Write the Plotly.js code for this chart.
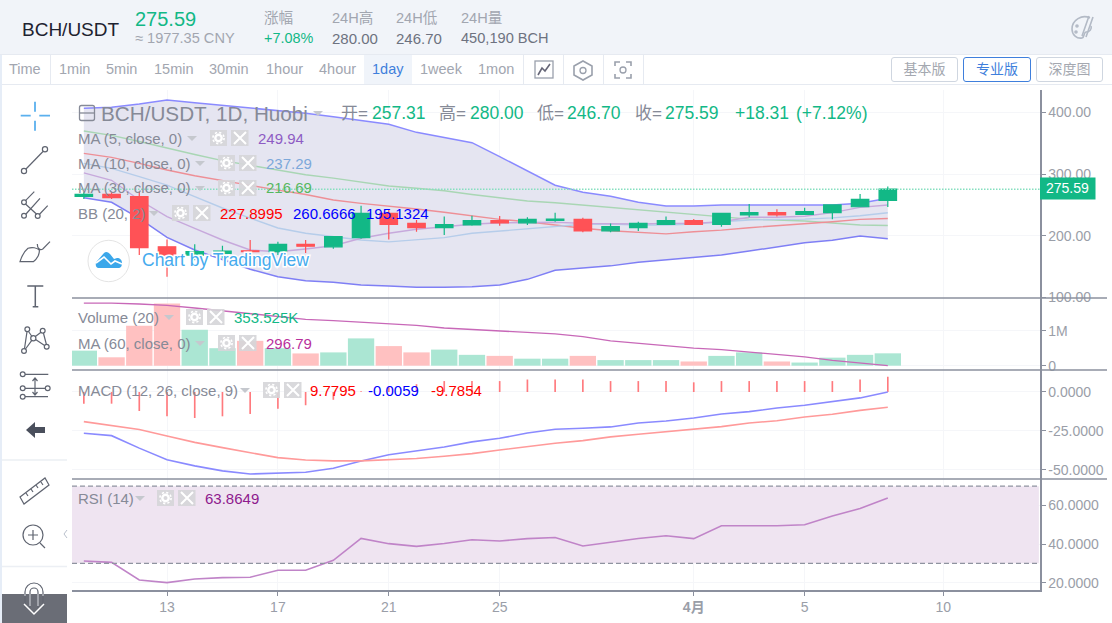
<!DOCTYPE html>
<html><head><meta charset="utf-8">
<script src="https://cdn.plot.ly/plotly-3.0.1.min.js"></script>
<style>
html,body{margin:0;padding:0;background:#fff;overflow:hidden;font-family:"Liberation Sans","Noto Sans CJK SC",sans-serif}
#wrap{position:relative;width:1112px;height:623px;overflow:hidden}
#chart{position:absolute;left:0;top:0;width:1112px;height:623px}
.h{position:absolute;white-space:nowrap;line-height:1}
#top{position:absolute;left:0;top:0;width:1112px;height:54px;background:#f1f4f9;border-bottom:1px solid #e6eaf1}
#tb{position:absolute;left:0;top:55px;width:1112px;height:29px;border-bottom:1px solid #e6eaf1;background:#fff}
.sep{position:absolute;top:55px;width:1px;height:29px;background:#e6eaf1}
.btn{position:absolute;top:57px;height:23px;border:1px solid #cfd6e0;border-radius:3px;font-size:14px;color:#a4a8b0;text-align:center;line-height:23px;box-sizing:content-box}
#ov{position:absolute;left:0;top:0;pointer-events:none}
#sideL{position:absolute;left:0;top:55px;width:2px;height:568px;background:#e6edf7}
</style></head><body><div id="wrap">
<div id="chart"></div>
<div id="top"></div><div id="tb"></div><div id="sideL"></div>
<div id="hdr"></div>
<svg id="ov" width="1112" height="623" viewBox="0 0 1112 623"></svg>
</div>
<script>
// ---------- data ----------
const days   = [10,11,12,13,14,15,16,17,18,19,20,21,22,23,24,25,26,27,28,29,30,31,32,33,34,35,36,37,38,39];
const opens  = [264,267,263.4,182,168.6,171.4,175.5,174,186,182,196.8,236.4,220,213,217.4,224.4,221,225,226.6,208,213,218.5,224.4,218.5,234,237.4,234.8,237.4,247,257.31];
const highs  = [270.5,271.5,271.5,194,186,183.7,193,190,193,199.5,248.7,242,225.5,231,232.5,232,230,237.4,229,220,222.7,231,227,237.4,251.5,243,245.5,250.4,267.7,280];
const lows   = [259.6,259.6,168.6,133.4,160,163,155,168.6,172,179,195,194,206.5,201,216,216,217.4,222.7,205.5,205.5,207.6,218,218,214.6,230,231,233.6,226.6,247,246.7];
const closes = [267,261.7,180.5,168.6,174,175,174,186,183,198.4,236.4,218.5,213,218,224.4,221,226.6,227,208,214.6,220,224.4,218.5,236.4,237.4,234,239,250,259,275.59];
const bbUpper = [406.9,408.5,413.9,420.4,416.1,411.8,407.4,403.1,398.8,393.3,386.8,380.9,367.9,359.8,351.1,328.4,305.6,282,270.5,264,254.2,248.3,248.3,249.9,249.9,249.9,249.9,249.9,252.6,260.67];
const bbLower = [261.7,254.2,228,197.4,176.8,161,145.4,133.4,126.9,124.3,120,118.2,116.1,116.1,117.1,119.8,129.1,144,148,151,156.7,160.5,164.8,168.6,175,182,188.7,192.5,199.5,195.13];
const bbBasis = [333.8,327.3,317.5,306.7,297.5,289.4,281,274,267,258,252.6,248.3,243.4,238,232.5,226.6,222.7,217.4,212,208,205,203,206.5,209,213,216,219.5,222.7,226.6,227.9];
const ma5  = [302,290,258,231,212,193,176.8,174,178.4,183.7,195.8,203.9,210.4,214.6,218.5,221,221.8,221.8,220,219,219,220,220,222.7,230,230,231.5,237.4,246,249.94];
const ma10 = [317.5,309.4,295.9,282.3,263.4,245,228.6,212.5,203.9,198.4,193,190,193,196.8,203.9,207.6,212,215.8,218.5,219,217.3,217.3,219,222.7,225.5,226.6,227,229,232.5,237.29];
const ma30 = [370,363,353,342,332,322,314,306,299,293.6,286.7,280.7,277,273,267,261.7,256.4,253.6,249.9,246,242.2,238,235,230.9,227,225.5,223.9,220.6,217.4,216.69];
const volumeM = [0.43,0.24,1.14,1.78,1.03,0.50,0.71,0.50,0.35,0.38,0.78,0.56,0.38,0.46,0.31,0.28,0.20,0.20,0.28,0.16,0.16,0.16,0.12,0.28,0.38,0.12,0.09,0.23,0.31,0.3535];
const volLine = [1.79,1.79,1.763,1.725,1.649,1.571,1.486,1.4,1.326,1.286,1.249,1.191,1.154,1.077,1.029,0.983,0.95,0.91,0.83,0.71,0.64,0.57,0.50,0.46,0.39,0.32,0.25,0.15,0.07,0.0];
const macd   = [-26.5,-28,-36,-43.4,-47.4,-50.6,-52.6,-51.9,-51.5,-48.9,-44.2,-40.2,-37.8,-35.3,-32,-29.7,-26.3,-23.9,-23.3,-22.4,-19.9,-18.6,-16.7,-14.1,-12.6,-10.3,-8.5,-6.2,-3.8,-0.0059];
const signal = [-19,-21.6,-24.1,-28.2,-32.3,-35.7,-38.9,-42.1,-43.6,-44.2,-44.2,-43.6,-42.7,-41.2,-39.5,-37.2,-35,-32.9,-31.2,-28.8,-27.1,-25.6,-23.9,-22.2,-19.9,-18.4,-16,-14.3,-11.8,-9.78];
const hist   = [-7.5,-7.5,-12.2,-15.6,-16.7,-15.6,-14.1,-10.7,-8.5,-5,0.5,3,5,7,7,7,8,8,8,7,7,7,6.2,7,7,7,7,7,8,9.78];
const rsi    = [31.2,30.5,21.4,20,21.9,22.6,22.8,26.4,26.4,31.6,42.9,40.2,38.8,40.3,42.2,41.6,42.8,43.4,39,40.9,42.9,44.3,42.8,49.5,49.5,49.5,50,54.5,58.4,63.86];
const xTickVals = [13,17,21,25,32,36,41];
const xTickText = ['13','17','21','25','<b>4月</b>','5','10'];
const priceTicks = [100,200,300,400];
const priceTickText = ['100.00','200.00','300.00','400.00'];
const volTicks = [0,1]; const volTickText = ['0','1M'];
const macdTicks = [-50,-25,0]; const macdTickText = ['-50.0000','-25.0000','0.0000'];
const rsiTicks = [20,40,60]; const rsiTickText = ['20.0000','40.0000','60.0000'];
const lastClose = 275.59;

// ---------- helpers ----------
const UP='#12b886', DOWN='#ff5256', AXIS='#8b909e', GRID='#f5f6f9', TICK='#9a9ea8', LEG='#868a97';
const L=72,R=1040,T=90,B=590,W=R-L,H=B-T;
const px=v=>(v-L)/W, py=v=>(B-v)/H;
const dom=(a,b)=>[py(b),py(a)];
const FONT='"Liberation Sans","Noto Sans CJK SC",sans-serif';
const XR=[9.573,44.49];
const yAx=(a,b,range,vals,text)=>({domain:dom(a,b),range,side:'right',anchor:'x',tickmode:'array',tickvals:vals,ticktext:text,
  showline:true,linecolor:AXIS,linewidth:1.5,ticks:'outside',ticklen:4,tickcolor:AXIS,gridcolor:GRID,zeroline:false,
  tickfont:{family:FONT,size:14,color:TICK},fixedrange:true});
const ln=(x,y,color,yaxis,w,extra)=>Object.assign({type:'scatter',mode:'lines',x,y,yaxis,line:{color,width:w||1.4},hoverinfo:'skip',showlegend:false},extra||{});

const traces=[
 ln(days,bbUpper,'#8a8aff','y',1.5),
 ln(days,bbLower,'#7f7ff5','y',1.5,{fill:'tonexty',fillcolor:'#e5e5f1'}),
 ln(days,ma30,'#a9d6b4','y'),
 ln(days,bbBasis,'#ee8f96','y'),
 ln(days,ma10,'#b6cdea','y'),
 ln(days,ma5,'#c7a9dc','y'),
 {type:'candlestick',x:days,open:opens,high:highs,low:lows,close:closes,yaxis:'y5',whiskerwidth:0,
  increasing:{line:{color:UP,width:1.2},fillcolor:UP},decreasing:{line:{color:DOWN,width:1.2},fillcolor:DOWN},hoverinfo:'skip',showlegend:false},
 {type:'bar',x:days,y:volumeM,yaxis:'y2',width:0.95,marker:{color:closes.map((c,i)=>c>=opens[i]?'#abe6d3':'#ffc1c1')},hoverinfo:'skip',showlegend:false},
 ln(days,volLine,'#c868b8','y2',1.3),
 {type:'bar',x:days,y:hist,yaxis:'y3',width:0.06,marker:{color:'#ff7a7e'},hoverinfo:'skip',showlegend:false},
 ln(days,macd,'#8a8aff','y3',1.6),
 ln(days,signal,'#ff9a9a','y3',1.6),
 ln(days,rsi,'#c084c8','y4',1.6),
];

const rows=[
 ['BCH/USDT, 1D, Huobi',102,113,LEG,20.7],
 ['开=',342,113,LEG,17],['257.31',373,113,UP,17.5],
 ['高=',440,113,LEG,17],['280.00',471,113,UP,17.5],
 ['低=',538,113,LEG,17],['246.70',568,113,UP,17.5],
 ['收=',636,113,LEG,17],['275.59',666,113,UP,17.5],
 ['+18.31',736,113,UP,17.5],['(+7.12%)',797,113,UP,17.5],
 ['MA (5, close, 0)',79,138,LEG,15],['249.94',259,138,'#8e5cc4',15],
 ['MA (10, close, 0)',79,163,LEG,15],['237.29',267,163,'#7da8da',15],
 ['MA (30, close, 0)',79,188,LEG,15],['216.69',267,188,'#55b860',15],
 ['BB (20, 2)',79,213,LEG,15],['227.8995',221,213,'#ff0000',15],['260.6666',294,213,'#0000ff',15],['195.1324',367,213,'#0000ff',15],
 ['Volume (20)',79,317,LEG,15],['353.525K',235,317,'#12b886',15],
 ['MA (60, close, 0)',79,343,LEG,15],['296.79',267,343,'#b8309c',15],
 ['MACD (12, 26, close, 9)',79,390,LEG,15],['9.7795',311,390,'#ff0000',15],['-0.0059',369,390,'#0000ff',15],['-9.7854',432,390,'#ff0000',15],
 ['RSI (14)',79,498,LEG,15],['63.8649',206,498,'#8e1a8e',15],
];
const annotations=rows.map(r=>({xref:'paper',yref:'paper',x:px(r[1]-2),y:py(r[2]),xanchor:'left',yanchor:'middle',text:r[0],showarrow:false,borderpad:0,font:{family:FONT,size:r[4],color:r[3]}}));
annotations.push({xref:'paper',yref:'paper',x:px(1067.5),y:py(188.5),xanchor:'center',yanchor:'middle',text:String(lastClose),showarrow:false,font:{family:FONT,size:14,color:'#fff'}});

const lineShape=(x0,y0,x1,y1,color,w,dash)=>({type:'line',xref:'paper',yref:'paper',x0:px(x0),x1:px(x1),y0:py(y0),y1:py(y1),line:{color,width:w,dash:dash||'solid'},layer:'above'});
const shapes=[
 {type:'rect',xref:'x',yref:'y4',x0:XR[0],x1:44.45,y0:30,y1:70,fillcolor:'#efe4f1',line:{width:0},layer:'between'},
 {type:'line',xref:'paper',yref:'y4',x0:0,x1:px(1039),y0:70,y1:70,line:{color:'#8f93a0',width:1.2,dash:'5px,3px'},layer:'above'},
 {type:'line',xref:'paper',yref:'y4',x0:0,x1:px(1039),y0:30,y1:30,line:{color:'#8f93a0',width:1.2,dash:'5px,3px'},layer:'above'},
 {type:'line',xref:'paper',yref:'y',x0:0,x1:1,y0:lastClose,y1:lastClose,line:{color:'#86dfc0',width:1.5,dash:'1.5px,1.5px'},layer:'above'},
 lineShape(72,298,1107,298,AXIS,1.4),
 lineShape(72,370,1107,370,AXIS,1.4),
 lineShape(72,479,1107,479,AXIS,1.4),
 {type:'rect',xref:'paper',yref:'paper',x0:px(1040),x1:px(1095.5),y0:py(199.5),y1:py(177.5),fillcolor:UP,line:{width:0},layer:'above'},
];

const layout={width:1112,height:623,margin:{l:L,r:1112-R,t:T,b:623-B,pad:0},paper_bgcolor:'#fff',plot_bgcolor:'rgba(0,0,0,0)',
 showlegend:false,barmode:'overlay',dragmode:false,boxgap:0.1,boxgroupgap:0.3,
 font:{family:FONT},
 xaxis:{domain:[0,1],range:XR,anchor:'y4',tickmode:'array',tickvals:xTickVals,ticktext:xTickText,showline:true,linecolor:AXIS,linewidth:1.5,
   ticks:'outside',ticklen:4,tickcolor:AXIS,gridcolor:GRID,showgrid:true,zeroline:false,tickfont:{family:FONT,size:14,color:TICK},rangeslider:{visible:false},fixedrange:true},
 yaxis:yAx(90,298,[98.8,436.7],priceTicks,priceTickText),
 yaxis2:yAx(298,370,[-0.123,1.934],volTicks,volTickText),
 yaxis3:yAx(370,479,[-55.8,14.1],macdTicks,macdTickText),
 yaxis4:yAx(479,590,[16.2,73.7],rsiTicks,rsiTickText),
 yaxis5:{overlaying:'y',range:[98.8,436.7],visible:false,anchor:'x',side:'right',fixedrange:true},
 annotations,shapes};
Plotly.newPlot('chart',traces,layout,{staticPlot:true,displayModeBar:false});

// ---------- page chrome ----------
const hdr=document.getElementById('hdr');
const put=(t,x,y,size,color,extra)=>{const d=document.createElement('div');d.className='h';d.textContent=t;
 d.style.cssText=`left:${x}px;top:${y-size/2}px;font-size:${size}px;color:${color};`+(extra||'');hdr.appendChild(d);return d;};
const hdrGrey='#a2a6b0',hdrVal='#6d7280';
put('BCH/USDT',22,29,19,'#1d2230');
put('275.59',135,19,20,UP);
put('≈ 1977.35 CNY',135,38,14.6,hdrGrey);
put('涨幅',264,18,14.6,hdrGrey);put('+7.08%',264,38,14.4,UP);
put('24H高',332,18,14.6,hdrGrey);put('280.00',332,38,15,hdrVal);
put('24H低',396,18,14.6,hdrGrey);put('246.70',396,38,15,hdrVal);
put('24H量',461,18,14.6,hdrGrey);put('450,190 BCH',461,38,14.6,hdrVal);
const active=document.createElement('div');active.style.cssText='position:absolute;left:364px;top:55px;width:48px;height:29px;background:#f0f4fa';hdr.appendChild(active);
[['Time',9],['1min',59],['5min',106],['15min',154],['30min',209],['1hour',266],['4hour',319],['1day',372],['1week',420],['1mon',478]].forEach(a=>put(a[0],a[1],69.5,14.5,a[0]==='1day'?'#3f7fdc':hdrGrey));
[50,523,563,603,643].forEach(x=>{const s=document.createElement('div');s.className='sep';s.style.left=x+'px';hdr.appendChild(s);});
[['基本版',891,65,'#cfd6e0','#a4a8b0'],['专业版',963,66,'#3f7fdc','#3f7fdc'],['深度图',1036,65,'#cfd6e0','#a4a8b0']].forEach(b=>{
 const d=document.createElement('div');d.className='btn';d.textContent=b[0];d.style.left=b[1]+'px';d.style.width=b[2]+'px';d.style.borderColor=b[3];d.style.color=b[4];hdr.appendChild(d);});

// icons, indicator buttons, watermark
const ic='#5f6470';
const gb=(x,y)=>`<rect x="${x}" y="${y-8}" width="17" height="16" fill="#d6d6d9" opacity=".92"/><circle cx="${x+8.5}" cy="${y}" r="3.2" fill="none" stroke="#fff" stroke-width="2.4"/><circle cx="${x+8.5}" cy="${y}" r="5.6" fill="none" stroke="#fff" stroke-width="1.6" stroke-dasharray="2.2 2.2"/>`
 +`<rect x="${x+21}" y="${y-8}" width="17.5" height="16" fill="#d6d6d9" opacity=".92"/><path d="M${x+24} ${y-6}l12 12m0-12l-12 12" stroke="#fff" stroke-width="2"/>`;
const tri=(x,y)=>`<path d="M${x-5} ${y-2}h10l-5 5z" fill="#c5c8ce"/>`;
let s='';
s+=`<rect x="79.5" y="105.5" width="15" height="15" rx="2" fill="none" stroke="#868a97" stroke-width="1.3"/><path d="M79.5 113h15" stroke="#868a97" stroke-width="1.3"/>`;
s+=tri(318,113)+tri(192,138)+tri(200,163)+tri(200,188)+tri(154,213)+tri(169,317)+tri(200,343)+tri(245,390)+tri(140,498);
s+=gb(210,138)+gb(218,163)+gb(218,188)+gb(172,213)+gb(186,317)+gb(218,343)+gb(263,390)+gb(157,498);
// watermark
s+=`<circle cx="108.7" cy="261" r="20.7" fill="#fff" fill-opacity=".85" stroke="#e4e4e4"/>`;
s+=`<path d="M98 268c-3-1-3-6 0-8l6-7c2-2 4-1 6 1l4 5 3-1c3 0 5 2 5 5 0 3-1 5-4 5z" fill="#3ba7ea"/><path d="M96 263l8-6 7 7 4-3 7 3" fill="none" stroke="#fff" stroke-width="1.6"/>`;
s+=`<text x="142" y="266" font-size="17.5" fill="#45abee" stroke="#fff" stroke-width="3" paint-order="stroke" style="font-family:${FONT.replace(/"/g,"'")}">Chart by TradingView</text>`;
// toolbar
s+=`<path d="M35 101.7v10M35 120.7v10M20.7 115.7h10M39.3 115.7h10.7" stroke="#5ab0ee" stroke-width="1.8" fill="none"/>`;
s+=`<g fill="none" stroke="${ic}" stroke-width="1.2">`;
s+=`<circle cx="24" cy="171" r="2.6"/><circle cx="45" cy="149.3" r="2.6"/><path d="M26 169l17-17.5"/>`;
s+=`<circle cx="24" cy="202.3" r="2.4"/><circle cx="24" cy="215.7" r="2.4"/><circle cx="37.7" cy="216" r="2.4"/><path d="M25.5 200.7l8.8-9M26 214l14-15.7M39.3 214.5l8.4-8.8M25.5 204l11.2 10.3"/>`;
s+=`<path d="M20 261.7c1.5-5 5-11 8-13.4 4-1.5 9-.5 11.3 1.7 .5 4-2 9-6 11.7zM37.3 244c0 4 2.5 7 5.5 5l7.2-7.3"/>`;
s+=`<path d="M27.3 286h16M35.3 286v20.7M32.7 306.7h5.6" stroke-width="1.5"/>`;
s+=`<circle cx="27.3" cy="329.3" r="2.4"/><circle cx="42.7" cy="330.7" r="2.4"/><circle cx="33.3" cy="338.3" r="2.6"/><circle cx="24" cy="351" r="2.4"/><circle cx="46.7" cy="346.7" r="2.4"/><path d="M24.5 348.7l2.5-17M28.5 331.5l3.5 5M35 336.7l6-4.5M43.4 333l3 11.5M25.5 349l6.3-8.6M35.6 339.5l9 6"/>`;
s+=`<path d="M25 374.3h23.3M25 396.7h23M25 388.3h20.3M35 378v17M32.5 381l2.5-3 2.5 3M32.5 392l2.5 3 2.5-3"/><circle cx="22.7" cy="374.3" r="2.4"/><circle cx="22.7" cy="388.3" r="2.4"/><circle cx="47.7" cy="388.3" r="2.4"/><circle cx="22.7" cy="396.7" r="2.4"/>`;
s+=`<path d="M20 497l25-19 4 7-25 19zM26 493l2 3M31 489l2 3M36 485l2 3M41 482l2 3"/>`;
s+=`<circle cx="33" cy="535" r="10"/><path d="M33 530v10M28 535h10M40 543l5 5"/>`;
s+=`<path d="M25 608v-16a9 9 0 0 1 18 0v16M30 608v-16a4 4 0 0 1 8 0v16"/>`;
s+=`</g>`;
s+=`<path d="M26 430l9-8v5h10v6H35v5z" fill="#4a4f5c"/>`;
s+=`<path d="M2 460h65M2 566.5h65" stroke="#eceff4" stroke-width="1.5"/>`;
s+=`<path d="M67 530l-3 4 3 4" fill="none" stroke="#b9c0cc" stroke-width="1"/>`;
s+=`<rect x="2" y="594" width="65" height="29" fill="#62656f" fill-opacity=".95"/><path d="M24 604l10 10 10-10" fill="none" stroke="#fff" stroke-width="1.5"/><path d="M25 594v2M43 594v2M30 594v12M38 594v12" stroke="#c9cbd1" stroke-width="1.2"/>`;
// tool row icons
s+=`<g fill="none" stroke="#9aa0ac" stroke-width="1.3"><rect x="535" y="61" width="18" height="17"/><path d="M538 75l4-7 3 3 5-7" stroke-width="1.6" stroke="#667"/>`;
s+=`<path d="M583 61l9 5v9l-9 5-9-5v-9z" stroke-width="1.6"/><circle cx="583" cy="70.5" r="3"/>`;
s+=`<path d="M615 66v-4h5M631 66v-4h-5M615 74v4h5M631 74v4h-5" stroke-width="1.6"/><circle cx="623" cy="70" r="3"/></g>`;
// palette icon
s+=`<g fill="none" stroke="#b3bac6" stroke-width="1.6"><path d="M1090 18c-8-4-18 2-18 11 0 6 5 10 10 9 3-1 1-5 4-6 4 0 6-3 5-6"/><path d="M1089 16l-7 20M1093 17l-7 20"/><circle cx="1077" cy="26" r="1"/><circle cx="1076" cy="32" r="1"/></g>`;
document.getElementById('ov').innerHTML=s;
</script></body></html>
